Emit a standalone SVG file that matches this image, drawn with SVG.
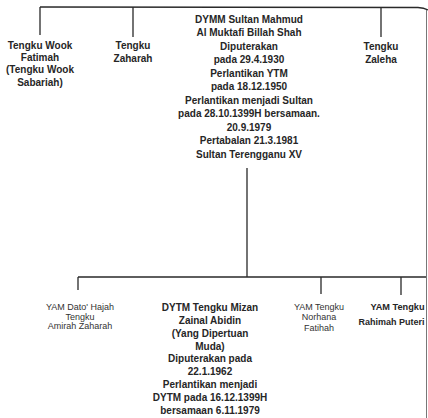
<svg xmlns="http://www.w3.org/2000/svg" width="428" height="418" viewBox="0 0 428 418">
<style>
.ln{stroke:#2a2a2a;stroke-width:1.3;fill:none}
.t{font-family:"Liberation Sans",Arial,sans-serif;font-weight:bold;font-size:10px;fill:#262626;text-anchor:middle}
.s{font-family:"Liberation Sans",Arial,sans-serif;font-size:9px;fill:#333;text-anchor:middle}
</style>
<rect width="428" height="418" fill="#fff"/>
<g id="connectors">
<path class="ln" d="M40 7 L418 7.5 Q424 8 428 10"/>
<path class="ln" d="M40 7 V35 M133 7 V37 M381 7.5 V37"/>
<path class="ln" d="M247 168 V277 M78 277 H427 M78 277 V290 M321 277 V294 M401 277 V295"/>
</g>
<g id="n-wook">
<text class="t" x="40" y="48.5">Tengku Wook</text>
<text class="t" x="40" y="60.5">Fatimah</text>
<text class="t" x="40" y="73">(Tengku Wook</text>
<text class="t" x="40" y="85.5">Sabariah)</text>
</g>
<g id="n-zaharah">
<text class="t" x="133" y="48.5">Tengku</text>
<text class="t" x="133" y="61.5">Zaharah</text>
</g>
<g id="n-sultan">
<text class="t" x="249" y="22.5">DYMM Sultan Mahmud</text>
<text class="t" x="249" y="36">Al Muktafi Billah Shah</text>
<text class="t" x="249" y="49.5">Diputerakan</text>
<text class="t" x="249" y="63">pada 29.4.1930</text>
<text class="t" x="249" y="76.5">Perlantikan YTM</text>
<text class="t" x="249" y="90">pada 18.12.1950</text>
<text class="t" x="249" y="103.5">Perlantikan menjadi Sultan</text>
<text class="t" x="249" y="117">pada 28.10.1399H bersamaan.</text>
<text class="t" x="249" y="130.5">20.9.1979</text>
<text class="t" x="249" y="144">Pertabalan 21.3.1981</text>
<text class="t" x="249" y="157.5">Sultan Terengganu XV</text>
</g>
<g id="n-zaleha">
<text class="t" x="381" y="49.5">Tengku</text>
<text class="t" x="381" y="62.5">Zaleha</text>
</g>
<g id="n-amirah">
<text class="s" x="80" y="310">YAM Dato' Hajah</text>
<text class="s" x="80" y="319.5">Tengku</text>
<text class="s" x="80" y="329">Amirah Zaharah</text>
</g>
<g id="n-mizan">
<text class="t" x="210" y="310.8">DYTM Tengku Mizan</text>
<text class="t" x="210" y="323.7">Zainal Abidin</text>
<text class="t" x="210" y="336.6">(Yang Dipertuan</text>
<text class="t" x="210" y="349.5">Muda)</text>
<text class="t" x="210" y="362.4">Diputerakan pada</text>
<text class="t" x="210" y="375.3">22.1.1962</text>
<text class="t" x="210" y="388.2">Perlantikan menjadi</text>
<text class="t" x="210" y="401.1">DYTM pada 16.12.1399H</text>
<text class="t" x="210" y="414">bersamaan 6.11.1979</text>
</g>
<g id="n-norhana">
<text class="s" x="319" y="309.5">YAM Tengku</text>
<text class="s" x="319" y="320">Norhana</text>
<text class="s" x="319" y="330.5">Fatihah</text>
</g>
<g id="n-rahimah">
<text class="t" x="424.5" y="310" style="text-anchor:end;font-size:9.2px">YAM Tengku</text>
<text class="t" x="424.5" y="324.5" style="text-anchor:end;font-size:9px">Rahimah Puteri</text>
</g>
<path d="M426.5 10 V418" stroke="#777" stroke-width="1" fill="none"/>
</svg>
